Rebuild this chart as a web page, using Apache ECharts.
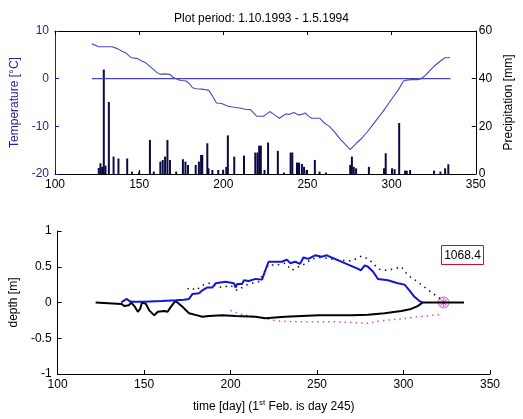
<!DOCTYPE html>
<html>
<head>
<meta charset="utf-8">
<script src="https://cdn.jsdelivr.net/npm/echarts@6/dist/echarts.min.js"></script>
<style>
html,body{margin:0;padding:0;background:#fff;}
#chart{width:523px;height:419px;}
</style>
</head>
<body>
<div id="chart"></div>
<script>
// ---- Data ----
var titleText = 'Plot period: 1.10.1993 - 1.5.1994';
var xTicks = [100, 150, 200, 250, 300, 350];
var tempTicks = [-20, -10, 0, 10];
var precipTicks = [0, 20, 40, 60];
var depthTicks = [-1, -0.5, 0, 0.5, 1];

var tempDays = [122,126,134,137,139.6,142,145.3,149.2,151,154,156,158.7,160.5,162.6,165,168.3,170,173.1,175,177.9,180,181.7,184,187.4,189,191.3,193.5,196,199,202.7,206.5,210.4,213,216.1,218,219.9,223.8,225.5,227.6,230.5,233.3,235,237.2,239,241.9,244.8,246.5,248.6,250.5,252.5,257.2,260.1,263,265.9,269.7,272.5,275.4,277,279.2,282,285,288.8,292.6,295.5,298.4,301,304.1,307,309,311.8,315.6,317.5,319.4,322,325.2,329,331.8,334.7];
var tempValues = [7.3,6.7,6.7,6.3,5.8,5.4,4.4,4.2,3.8,3.3,2.7,1.9,1.3,0.9,1.0,0.9,0.3,-0.2,-0.4,-0.5,-1.1,-1.9,-2.1,-2.2,-2.3,-2.4,-3.6,-5.1,-5.2,-5.8,-6.0,-6.2,-6.4,-6.5,-7.2,-7.9,-7.9,-7.5,-6.9,-7.6,-8.3,-7.9,-7.4,-7.5,-7.1,-7.6,-7.5,-7.2,-7.8,-8.3,-8.3,-9.3,-10.0,-11.1,-12.8,-13.8,-14.9,-14.3,-13.5,-12.6,-11.4,-9.7,-7.9,-6.6,-5.1,-3.8,-2.3,-0.5,-0.3,-0.2,-0.2,0.0,0.5,1.4,2.6,3.7,4.4,4.4];
var zeroLineDays = [122, 335];

var precipDays = [126,127,128,129,130,132,134.8,137.7,142.9,145.7,150,156.4,158.7,162.6,164,165.4,166.8,168.3,172,176,177.5,179,183.6,185.5,186.8,187.5,190.5,191.2,193.5,197,199.9,201.8,202.7,206.5,212.3,219,220.3,221.3,222.3,224.5,226.6,232.4,236,240,241,243.8,245,246.7,248,249.5,254.4,257.2,261,275.4,276.4,277.5,278.9,286.5,295.5,296.5,300.3,301.8,304.5,308,309,311,325.2,329,331.8,333.7];
var precipValues = [2.5,4.5,3,43.8,3.5,30.2,7.3,6.5,6.5,1,1,14.3,1,5.2,5.9,7.3,14.3,5.9,1,6.2,5.2,3.8,3.8,5.2,8,8,12.9,2.4,1.7,1.7,1.8,3,16.2,7.3,7.7,9,9,11.9,11.9,1.7,13.2,9.7,0.6,9,9,4.8,4.8,4.2,3,1.7,5.9,1,0.6,3.8,7.3,3,2.4,3,2.4,8.7,2.4,2,21.4,1.4,1.4,1.7,1.4,1,2.4,4.1];

var snowDays = [136.8,138.5,140,141.5,143,150,160,168.4,173.2,176,178,181.8,183.7,186.6,189.5,191.4,197.1,201.9,202.9,203.8,206.7,207.7,210.5,211.5,214.4,218.2,220.1,222,225.9,229.7,232.6,234.5,237.4,240.2,242.1,245,248.9,252.7,255.6,258.4,262.3,268,273.8,275.3,277.6,279.5,282.4,285.2,291,296.7,300.6,303.4,306.3,309.2,311.1];
var snowValues = [0,0.03,0.05,0.02,0.01,0.01,0.02,0.03,0.04,0.05,0.12,0.13,0.17,0.21,0.21,0.27,0.29,0.27,0.21,0.26,0.26,0.31,0.30,0.32,0.33,0.32,0.45,0.57,0.57,0.57,0.60,0.55,0.57,0.54,0.63,0.61,0.66,0.64,0.66,0.63,0.59,0.53,0.47,0.45,0.52,0.50,0.43,0.33,0.31,0.27,0.25,0.17,0.08,0.02,0];

var frostDays = [122,136.8,138.7,141.2,142.5,144.4,146.4,147.7,148.8,151.1,153,155.9,157.9,161.7,163.6,165.5,168,169.3,172.2,176,180.8,183.7,187.5,195.2,202.9,214.4,220.1,231.6,250.8,269.9,279.5,289.1,298.7,304.4,308.2,311.1,335];
var frostValues = [0,-0.02,-0.05,-0.04,0,-0.05,-0.13,-0.09,0,-0.02,-0.11,-0.18,-0.13,-0.12,-0.13,-0.06,0.02,0,-0.06,-0.15,-0.18,-0.20,-0.19,-0.18,-0.19,-0.20,-0.22,-0.20,-0.18,-0.18,-0.17,-0.15,-0.12,-0.09,-0.05,0,0];

var simSnowDays = [175.1,177,179.9,183.7,187.5,191.4,195.2,200,203.8,206.7,210.5,216.3,222,225.9,231.6,235.4,239.3,243.1,246.9,252.7,258.4,264.2,269.9,275.7,279.5,282.4,285.2,289.1,294.8,298.7,302.5,308.2,314,319.7,322.6];
var simSnowValues = [0.19,0.21,0.17,0.24,0.27,0.23,0.21,0.24,0.17,0.21,0.26,0.29,0.53,0.52,0.55,0.45,0.50,0.54,0.61,0.63,0.61,0.59,0.58,0.65,0.61,0.55,0.47,0.45,0.47,0.50,0.38,0.29,0.18,0.08,0.03];

var simFrostDays = [200,204.8,212.4,220.1,227.8,241.2,260.3,279.5,289.1,298.7,308.2,320.7];
var simFrostValues = [-0.11,-0.16,-0.19,-0.23,-0.26,-0.27,-0.27,-0.29,-0.25,-0.23,-0.20,-0.17];

var meltDay = [323.2];
var meltValue = [0];
var annotationText = '1068.4';

function pairs(xs, ys){ return xs.map(function(x,i){ return [x, ys[i]]; }); }

var FONT = 'Liberation Sans';
var BLUEAX = '#22229a';
var chart = echarts.init(document.getElementById('chart'), null, {renderer:'canvas'});

var baseAxis = {
  axisLine:{show:true, onZero:false, lineStyle:{color:'#000', width:1}},
  axisTick:{show:true, inside:true, length:4, lineStyle:{color:'#000'}},
  splitLine:{show:false},
  axisLabel:{fontFamily:FONT, fontSize:12, color:'#000', margin:5}
};
function ax(extra){ return Object.assign(JSON.parse(JSON.stringify(baseAxis)), extra); }

var option = {
  animation:false,
  backgroundColor:'#fff',
  textStyle:{fontFamily:FONT},
  title:{text:titleText, left:'center', top:8, textStyle:{fontFamily:FONT, fontSize:12, fontWeight:'normal', color:'#000'}},
  grid:[
    {left:55, top:31, width:435, height:143},
    {left:55, top:231, width:435, height:143}
  ],
  xAxis:[
    ax({type:'value', gridIndex:0, min:100, max:350, interval:50, position:'bottom'}),
    ax({type:'value', gridIndex:0, min:100, max:350, interval:50, position:'top', axisLabel:{show:false}}),
    ax({type:'value', gridIndex:1, min:100, max:350, interval:50, position:'bottom',
        name:'{a|time [day] (1}{s|st}{a| Feb. is day 245)}', nameLocation:'middle', nameGap:25,
        nameTextStyle:{rich:{a:{fontFamily:FONT, fontSize:12, color:'#000', verticalAlign:'bottom', lineHeight:14}, s:{fontFamily:FONT, fontSize:8, color:'#000', verticalAlign:'top', lineHeight:14}}}})
  ],
  yAxis:[
    ax({type:'value', gridIndex:0, min:-20, max:10, interval:10, position:'left',
        axisLine:{show:true, onZero:false, lineStyle:{color:BLUEAX}},
        axisTick:{show:true, inside:true, length:4, lineStyle:{color:BLUEAX}},
        axisLabel:{fontFamily:FONT, fontSize:12, color:BLUEAX, margin:6},
        name:'Temperature [°C]', nameLocation:'middle', nameGap:32,
        nameTextStyle:{fontFamily:FONT, fontSize:12, color:BLUEAX}}),
    ax({type:'value', gridIndex:0, min:0, max:60, interval:20, position:'right',
        axisLabel:{fontFamily:FONT, fontSize:12, color:'#000', margin:3},
        name:'Precipitation [mm]', nameLocation:'middle', nameGap:22, nameRotate:90,
        nameTextStyle:{fontFamily:FONT, fontSize:12, color:'#000'}}),
    ax({type:'value', gridIndex:1, min:-1, max:1, interval:0.5, position:'left',
        axisLabel:{fontFamily:FONT, fontSize:12, color:'#000', margin:6},
        name:'depth [m]', nameLocation:'middle', nameGap:34,
        nameTextStyle:{fontFamily:FONT, fontSize:12, color:'#000'}})
  ],
  series:[
    {type:'bar', xAxisIndex:0, yAxisIndex:1, data:pairs(precipDays, precipValues), barWidth:2,
     itemStyle:{color:'#0a0a45', borderColor:'#000', borderWidth:0}, silent:true},
    {type:'line', xAxisIndex:0, yAxisIndex:0, data:zeroLineDays.map(function(d){return [d,0];}), showSymbol:false,
     lineStyle:{color:'#4444c4', width:1.2}},
    {type:'line', xAxisIndex:0, yAxisIndex:0, data:pairs(tempDays, tempValues), showSymbol:false,
     lineStyle:{color:'#4848c8', width:1.1}},
    {type:'line', xAxisIndex:2, yAxisIndex:2, data:pairs(simFrostDays, simFrostValues), showSymbol:false,
     lineStyle:{color:'#e040e0', width:1.5, type:[1.5,4]}},
    {type:'line', xAxisIndex:2, yAxisIndex:2, data:pairs(simSnowDays, simSnowValues), showSymbol:false,
     lineStyle:{color:'#111', width:1.5, type:[1.5,4.5]}},
    {type:'line', xAxisIndex:2, yAxisIndex:2, data:pairs(frostDays, frostValues), showSymbol:false,
     lineStyle:{color:'#000', width:2}},
    {type:'line', xAxisIndex:2, yAxisIndex:2, data:pairs(snowDays, snowValues), showSymbol:false,
     lineStyle:{color:'#1414d8', width:2}},
    {type:'scatter', xAxisIndex:2, yAxisIndex:2, data:pairs(meltDay, meltValue), symbol:'circle', symbolSize:11,
     itemStyle:{color:'rgba(235,120,235,0.35)', borderColor:'#e030e0', borderWidth:1}},
    {type:'scatter', xAxisIndex:2, yAxisIndex:2, data:pairs(meltDay, meltValue),
     symbol:'path://M5,0L5,10M0,5L10,5M1.5,1.5L8.5,8.5M8.5,1.5L1.5,8.5', symbolSize:9,
     itemStyle:{color:'none', borderColor:'#e020e0', borderWidth:1}}
  ],
  graphic:[
    {type:'rect', shape:{x:441.5, y:245.5, width:42, height:19}, style:{fill:'#fff', stroke:'#c8102e', lineWidth:1}},
    {type:'text', x:462.5, y:255.5, style:{text:annotationText, font:'12px "Liberation Sans"', fill:'#000', align:'center', verticalAlign:'middle'}}
  ]
};
chart.setOption(option);
</script>
</body>
</html>
